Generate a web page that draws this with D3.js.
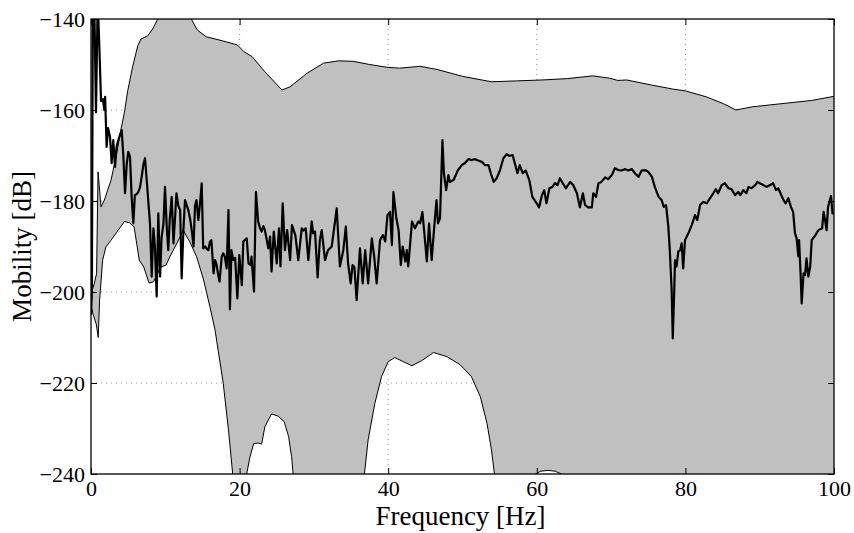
<!DOCTYPE html>
<html>
<head>
<meta charset="utf-8">
<script src="https://cdn.jsdelivr.net/npm/d3@7"></script>
<style>
  body { margin: 0; background: #fff; }
  svg, svg text { font-family: "Liberation Serif", "Times New Roman", serif; }
  svg { display: block; }
  .tick text { font-size: 22px; fill: #000; font-family: "Liberation Serif", "Times New Roman", serif; }
  .tick line { stroke: #000; stroke-width: 1; }
</style>
</head>
<body>
<div id="chart"></div>
<script>
// tick values
var xTicks = [0, 20, 40, 60, 80, 100];
var yTicks = [-240, -220, -200, -180, -160, -140];

// measured mobility [Hz, dB]
var linePoints = [
  [0,-205],[0.12,-200],[0.25,-135],[0.45,-137],[0.67,-160.5],[0.9,-136],[1.1,-145],[1.35,-158],[1.6,-157.6],[1.8,-160],
  [1.9,-157.1],[2.1,-168.1],[2.3,-164],[2.56,-165.9],[2.78,-171.7],[3.0,-166.6],[3.23,-172.5],[3.45,-168],[3.67,-166.6],[3.9,-165.5],
  [4.13,-164.4],[4.35,-170],[4.58,-178.3],[4.8,-172],[5.02,-169.2],[5.25,-170.3],[5.47,-179.1],[5.7,-184.9],[5.9,-178.7],[6.15,-178.5],
  [6.37,-178],[6.6,-177],[6.82,-174.7],[7.05,-172],[7.27,-170.6],[7.5,-175.4],[7.7,-179.8],[7.94,-184.9],[8.17,-196.6],[8.4,-186],
  [8.6,-190],[8.84,-201],[9.06,-182.7],[9.3,-196.6],[9.5,-188],[9.75,-185],[9.96,-176.9],[10.2,-186],[10.4,-190.8],[10.6,-184],
  [10.86,-179.1],[11.1,-189.3],[11.3,-184],[11.5,-178.3],[11.75,-181],[12.0,-182],[12.2,-197],[12.45,-186],[12.65,-179.8],[12.9,-181],
  [13.1,-182],[13.35,-184],[13.6,-187],[13.8,-190],[14.0,-181],[14.2,-179.8],[14.45,-184.2],[14.7,-180],[14.9,-176.1],[15.1,-190.4],
  [15.4,-190],[15.6,-190.6],[15.8,-190.8],[16.0,-189],[16.2,-188.6],[16.5,-195.9],[16.7,-193],[16.9,-194],[17.1,-196],[17.3,-197.7],
  [17.6,-192.2],[17.8,-191.5],[18.0,-192.2],[18.26,-194.8],[18.5,-182],[18.7,-203.8],[18.9,-190.8],[19.15,-193],[19.4,-192.5],[19.7,-201.4],
  [19.96,-191.9],[20.3,-198.5],[20.5,-188.9],[20.75,-188.5],[20.96,-188.2],[21.2,-193.7],[21.5,-194.1],[21.6,-192.2],[21.94,-199.9],[22.2,-178],
  [22.5,-184.5],[22.75,-186],[22.97,-186.7],[23.2,-185.5],[23.4,-186.4],[23.65,-188.5],[23.86,-190.4],[24.1,-187.8],[24.3,-195.5],[24.6,-186.7],
  [25.0,-193.7],[25.3,-186],[25.5,-194.4],[25.8,-180.5],[26.1,-190.8],[26.4,-186.4],[26.8,-193],[27.05,-185.3],[27.5,-187.5],[27.9,-193],
  [28.36,-186],[28.6,-186.5],[28.9,-186],[29.25,-193],[29.7,-184.5],[29.9,-187.1],[30.15,-186.7],[30.5,-196.8],[30.8,-188.6],[31.05,-186.4],
  [31.5,-193],[31.9,-190.8],[32.4,-190],[33.07,-181.6],[33.5,-194.4],[33.96,-190.8],[34.3,-185.6],[34.6,-193.7],[34.95,-198.1],[35.2,-194.1],
  [35.45,-194.5],[35.75,-201.8],[36.2,-190.4],[36.57,-198.1],[36.9,-190.8],[37.3,-198.1],[37.8,-188.2],[38.1,-192],[38.45,-198.1],[38.9,-188.6],
  [39.3,-187.5],[39.6,-188.9],[39.9,-183.1],[40.24,-182.4],[40.5,-189.7],[40.7,-178],[41.1,-183.8],[41.4,-186.4],[41.7,-194.1],[41.95,-190],
  [42.3,-193.3],[42.5,-190.8],[42.7,-194.4],[43.2,-184.5],[43.6,-186],[44.05,-184.5],[44.3,-184.9],[44.6,-182.4],[44.95,-188.6],[45.2,-193.3],
  [45.5,-184.9],[45.85,-193],[46.2,-185.6],[46.5,-179.8],[46.7,-184.9],[46.97,-183.8],[47.3,-166.6],[47.5,-173.9],[47.8,-177.6],[48.1,-174.3],
  [48.3,-175.8],[48.8,-175.4],[49.1,-174.3],[49.4,-173.2],[49.9,-172.1],[50.3,-171.7],[50.8,-170.8],[51.2,-171],[51.7,-170.8],[52.1,-171.1],
  [52.6,-171.4],[53.0,-172.1],[53.5,-172.1],[53.8,-173.9],[54.2,-175.8],[54.6,-175],[55.05,-173.2],[55.5,-170.6],[55.95,-169.7],[56.3,-170.1],
  [56.75,-169.9],[57.1,-172.1],[57.4,-173.9],[57.7,-172.1],[58.1,-173.9],[58.5,-173.3],[58.99,-175.4],[59.4,-179.1],[59.99,-180.5],[60.3,-181.4],
  [60.7,-178.7],[61.0,-177.6],[61.3,-180.5],[61.7,-177.2],[62.1,-176.9],[62.45,-176.1],[62.8,-176.5],[63.1,-175],[63.5,-176.1],[63.9,-177.2],
  [64.5,-175.8],[64.9,-176.5],[65.4,-178.3],[65.8,-181.4],[66.2,-178.3],[66.5,-180.9],[66.9,-181.4],[67.4,-181.4],[67.6,-178.3],[67.97,-179.1],
  [68.3,-176.1],[68.7,-175.8],[69.2,-174.8],[69.6,-175.2],[70.1,-174.3],[70.5,-172.8],[70.97,-173.2],[71.4,-173.3],[71.9,-173],[72.3,-173.3],
  [72.8,-173],[73.2,-173.9],[73.7,-174.7],[74.1,-173.3],[74.6,-173.2],[75.0,-173.6],[75.5,-174.7],[75.9,-177],[76.4,-179.1],[76.8,-179.8],
  [77.1,-181.3],[77.4,-180.9],[77.7,-185.6],[77.9,-190.8],[78.15,-199.6],[78.3,-210.2],[78.5,-199.6],[78.6,-193],[78.8,-194.4],[79.05,-191.1],
  [79.3,-190.8],[79.5,-189.3],[79.7,-194.8],[79.95,-188.6],[80.4,-187.1],[80.85,-185.3],[81.3,-183.1],[81.6,-184.2],[81.97,-180.9],[82.4,-180.2],
  [82.9,-180.5],[83.3,-179.4],[83.75,-178.3],[84.1,-177.4],[84.4,-178.3],[84.9,-176.5],[85.3,-176.1],[85.8,-177.2],[86.2,-177.4],[86.7,-178.7],
  [87.1,-178],[87.4,-178.7],[87.8,-177.6],[88.2,-178.3],[88.5,-176.9],[88.9,-177.2],[89.4,-176.5],[89.7,-175.8],[90.0,-176.1],[90.5,-176.5],
  [90.9,-176.9],[91.4,-176.5],[91.8,-176.1],[92.2,-177.6],[92.5,-177.2],[92.8,-178.3],[93.2,-179.8],[93.5,-180.5],[93.85,-179.4],[94.2,-181.3],
  [94.5,-182.4],[94.75,-187.1],[94.97,-188.2],[95.2,-192.2],[95.3,-188.6],[95.5,-195.9],[95.65,-202.5],[95.9,-195.9],[96.1,-196.3],[96.3,-192.6],
  [96.55,-196.6],[96.8,-194.4],[97.0,-188.6],[97.5,-187.5],[97.9,-186.4],[98.4,-186],[98.6,-182.4],[98.8,-184.2],[99.0,-186.4],[99.2,-181.3],
  [99.6,-178.9],[99.8,-182.7],[100,-182.5]
];

// upper envelope [Hz, dB]
var upperPoints = [
  [0,-200],[0.3,-199],[0.75,-196],[0.95,-173.6],[1.35,-181.3],[1.8,-179.8],[2.24,-177.6],[2.7,-175.4],[3.4,-170],[4.04,-164.2],
  [4.5,-160.5],[4.94,-155.8],[5.6,-150.5],[6.29,-145.9],[6.73,-144.4],[7.63,-143.7],[8.3,-142.2],[8.98,-140],[10,-136],[11.5,-135],
  [12.8,-137.5],[13.5,-140],[14.3,-142.4],[15.5,-143.9],[17.7,-144.8],[19.7,-145.7],[20.6,-147.2],[21.7,-148.3],[23.4,-151.6],[25.7,-155.6],
  [26.8,-154.9],[29.1,-151.9],[31.3,-149.7],[33.3,-149.2],[35.3,-149.3],[37.5,-150],[39.8,-150.6],[41.5,-150.8],[44.3,-150.4],[46.6,-151.1],
  [50.0,-152.6],[53.9,-153.8],[57.3,-153.6],[60.7,-153.4],[64.1,-153.1],[67.5,-152.5],[69.8,-153],[70.9,-153.5],[72.1,-153.4],[75.4,-154.5],
  [78.3,-155.4],[80.0,-155.8],[82.8,-157.1],[85.1,-158.6],[86.8,-160],[89.0,-159.3],[93.0,-158.6],[97.0,-157.9],[100,-157]
];

// lower envelope [Hz, dB] (values under -240 fall below the axes)
var lowerPoints = [
  [0,-203],[0.3,-205],[0.7,-207],[0.97,-210],[1.15,-202],[1.57,-193],[2.0,-190.1],[2.7,-188.6],[3.4,-187],[4.5,-184.5],
  [5.2,-184.8],[5.8,-185.7],[6.5,-193],[7.1,-194.5],[7.8,-198],[8.4,-197.8],[9.4,-194.5],[10.1,-194.1],[10.6,-192.3],[12.0,-187.9],
  [12.4,-186.4],[13.3,-189],[14.2,-192.2],[15.1,-197],[16.0,-203.2],[16.7,-208.4],[17.8,-220.1],[18.5,-230.3],[19.07,-240],[19.6,-255],
  [20.4,-255],[20.95,-240],[21.4,-236.2],[21.9,-233.3],[22.5,-233.2],[22.97,-233.4],[23.4,-229.6],[24.3,-226.8],[25.2,-227.3],[26.0,-228.5],
  [26.6,-231.8],[27.0,-236.2],[27.2,-240],[28,-255],[36,-255],[36.8,-240],[37.3,-232.5],[38.2,-224.5],[39.1,-218.6],[40.0,-215.3],
  [40.9,-214.4],[42.0,-215.3],[43.2,-216.2],[44.5,-215.1],[46.1,-213.3],[47.9,-214.2],[49.7,-216],[51.2,-218.6],[52.4,-223],[53.3,-228.9],
  [53.9,-234.7],[54.3,-240],[55,-255],[59,-255],[59.8,-240],[60.5,-239.4],[61.5,-239.2],[62.5,-239.4],[63.3,-240],[64,-255],
  [100,-255]
];

var svgWidth = 854;
var svgHeight = 533;
var margin = { top: 19, right: 20, bottom: 59, left: 91 };
var width = svgWidth - margin.left - margin.right;
var height = svgHeight - margin.top - margin.bottom;

var svg = d3.select("#chart")
  .append("svg")
  .attr("width", svgWidth)
  .attr("height", svgHeight);

var chartGroup = svg.append("g")
  .attr("transform", `translate(${margin.left}, ${margin.top})`);

var xScale = d3.scaleLinear().domain([0, 100]).range([0, width]);
var yScale = d3.scaleLinear().domain([-240, -140]).range([height, 0]);

chartGroup.append("clipPath")
  .attr("id", "plotClip")
  .append("rect")
  .attr("width", width)
  .attr("height", height);

// dotted grid
chartGroup.append("g")
  .selectAll("line.gx")
  .data(xTicks.slice(1, -1))
  .enter()
  .append("line")
  .attr("x1", d => xScale(d)).attr("x2", d => xScale(d))
  .attr("y1", 0).attr("y2", height)
  .attr("stroke", "#777").attr("stroke-width", 0.8)
  .attr("stroke-dasharray", "1,4");

chartGroup.append("g")
  .selectAll("line.gy")
  .data(yTicks.slice(1, -1))
  .enter()
  .append("line")
  .attr("y1", d => yScale(d)).attr("y2", d => yScale(d))
  .attr("x1", 0).attr("x2", width)
  .attr("stroke", "#777").attr("stroke-width", 0.8)
  .attr("stroke-dasharray", "1,4");

var lineGen = d3.line()
  .x(d => xScale(d[0]))
  .y(d => yScale(d[1]));

var plot = chartGroup.append("g").attr("clip-path", "url(#plotClip)");

// grey band between the envelopes
var band = upperPoints.concat(lowerPoints.slice().reverse());
plot.append("path")
  .attr("d", lineGen(band) + "Z")
  .attr("fill", "#c0c0c0")
  .attr("stroke", "none");

plot.append("path")
  .attr("d", lineGen(upperPoints))
  .attr("fill", "none").attr("stroke", "#000").attr("stroke-width", 1);

plot.append("path")
  .attr("d", lineGen(lowerPoints))
  .attr("fill", "none").attr("stroke", "#000").attr("stroke-width", 1);

plot.append("path")
  .attr("d", lineGen(linePoints))
  .attr("fill", "none").attr("stroke", "#000").attr("stroke-width", 2.2)
  .attr("stroke-linejoin", "round");

// axes with inward ticks, serif labels
function serif(g) {
  g.attr("font-family", null).attr("font-size", null);
  g.select(".domain").remove();
  g.selectAll("text").style("font-family", "'Liberation Serif', 'Times New Roman', serif");
}

chartGroup.append("g")
  .attr("transform", `translate(0, ${height})`)
  .call(d3.axisBottom(xScale).tickValues(xTicks).tickFormat(d3.format("d")).tickSize(-6).tickPadding(6))
  .call(serif);

chartGroup.append("g")
  .call(d3.axisTop(xScale).tickValues(xTicks).tickFormat("").tickSize(-6))
  .call(serif);

chartGroup.append("g")
  .call(d3.axisLeft(yScale).tickValues(yTicks).tickFormat(d3.format("d")).tickSize(-6).tickPadding(6))
  .call(serif);

chartGroup.append("g")
  .attr("transform", `translate(${width}, 0)`)
  .call(d3.axisRight(yScale).tickValues(yTicks).tickFormat("").tickSize(-6))
  .call(serif);

// box
chartGroup.append("rect")
  .attr("width", width)
  .attr("height", height)
  .attr("fill", "none")
  .attr("stroke", "#000")
  .attr("stroke-width", 1.3);

// axis labels
chartGroup.append("text")
  .attr("x", width / 2 - 2)
  .attr("y", height + 51)
  .attr("text-anchor", "middle")
  .attr("font-size", 27)
  .text("Frequency [Hz]");

chartGroup.append("text")
  .attr("transform", `translate(${-60}, ${height / 2}) rotate(-90)`)
  .attr("text-anchor", "middle")
  .attr("font-size", 27)
  .text("Mobility [dB]");
</script>
</body>
</html>
